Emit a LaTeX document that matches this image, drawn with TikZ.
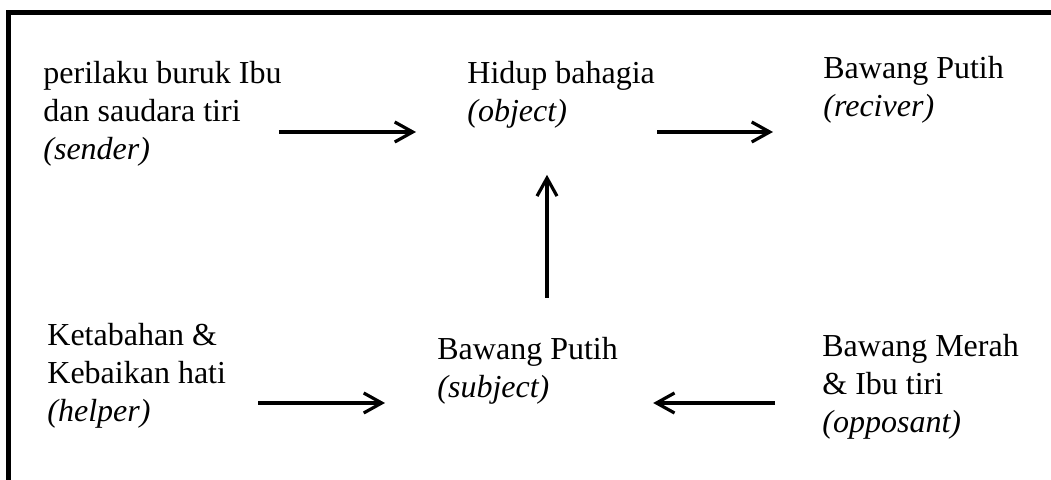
\documentclass[tikz,border=0pt]{standalone}
\usepackage{fontspec}
\setmainfont{Liberation Serif}
\usepackage{tikz}
\usetikzlibrary{arrows.meta}
\tikzstyle{arrow} = [line width=1.6pt,-{Straight Barb[length=9pt,width=10pt]}]
\tikzstyle{actant} = [anchor=north west, inner sep=0pt, align=left, font={\fontsize{16}{19}\selectfont}]
\begin{document}
\begin{tikzpicture}[x=0.5pt,y=-0.5pt]
        \useasboundingbox (0,0) rectangle (1051,480);
        \draw[line width=2.8pt, line join=miter] (8.5,520) |- (1100,12.5);
        \node (sender) [actant] at (43,61) {perilaku buruk Ibu\\dan saudara tiri\\\textit{(sender)}};
        \node (object) [actant] at (467,61) {Hidup bahagia\\\textit{(object)}};
        \node (receiver) [actant] at (823,56) {Bawang Putih\\\textit{(reciver)}};
        \node (helper) [actant] at (47,323) {Ketabahan \&\\Kebaikan hati\\\textit{(helper)}};
        \node (subject) [actant] at (437,337) {Bawang Putih\\\textit{(subject)}};
        \node (opposant) [actant] at (822,334) {Bawang Merah\\\& Ibu tiri\\\textit{(opposant)}};
        \coordinate (rowtop) at (0,132);
        \coordinate (rowbot) at (0,403);
        \coordinate (colmid) at (547,0);
        \coordinate (subjectport) at ([xshift=17.5pt]subject.east);
        \draw [arrow, shorten <=-1.5pt, shorten >=25.5pt] (sender.east |- rowtop) -- (object.west |- rowtop);
        \draw [arrow, shorten <=1pt, shorten >=25pt] (object.east |- rowtop) -- (receiver.west |- rowtop);
        \draw [arrow, shorten <=19.5pt, shorten >=23pt] (subject.north -| colmid) -- (object.south -| colmid);
        \draw [arrow, shorten <=16pt, shorten >=26pt] (helper.east |- rowbot) -- (subject.west |- rowbot);
        \draw [arrow, shorten <=23.5pt] (opposant.west |- rowbot) -- (subjectport |- rowbot);
    \end{tikzpicture}
\end{document}
